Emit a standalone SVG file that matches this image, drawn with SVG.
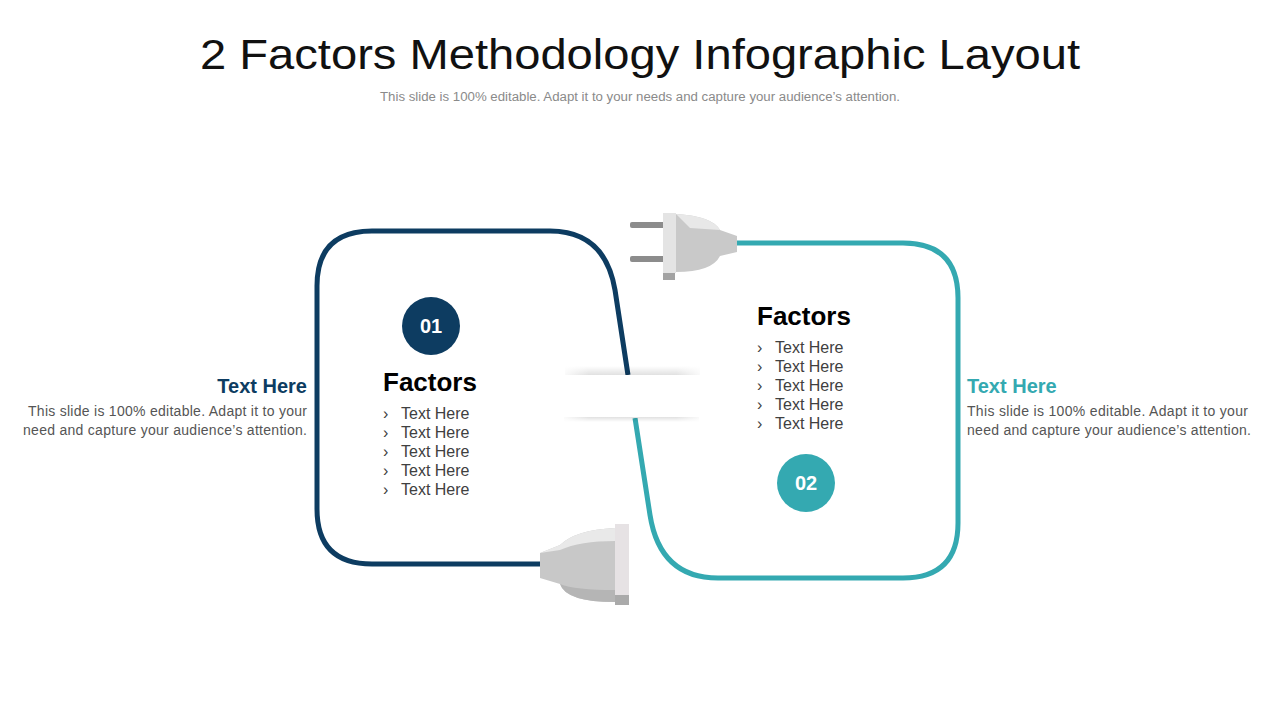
<svg xmlns="http://www.w3.org/2000/svg" width="1280" height="720" viewBox="0 0 1280 720">
<defs>
<style>
text{font-family:"Liberation Sans",Arial,sans-serif}
.t{font-size:16px;fill:#404040}
.d{font-size:14px;fill:#555}
.h{font-size:26px;font-weight:bold;fill:#000}
</style>
<linearGradient id="sh" x1="0" y1="0" x2="0" y2="1"><stop offset="0" stop-color="#000" stop-opacity="0"/><stop offset="1" stop-color="#000" stop-opacity="0.12"/></linearGradient>
<linearGradient id="fade" x1="0" y1="0" x2="1" y2="0"><stop offset="0" stop-color="#fff" stop-opacity="1"/><stop offset="0.2" stop-color="#fff" stop-opacity="0"/><stop offset="0.8" stop-color="#fff" stop-opacity="0"/><stop offset="1" stop-color="#fff" stop-opacity="1"/></linearGradient>
</defs>
<rect width="1280" height="720" fill="#fff"/>
<text x="200" y="69" font-size="42" fill="#111" textLength="880" lengthAdjust="spacingAndGlyphs" style="font-family:'Liberation Sans',sans-serif">2 Factors Methodology Infographic Layout</text>
<text x="380" y="101" font-size="12" fill="#8a8a8a" textLength="520" lengthAdjust="spacingAndGlyphs">This slide is 100% editable. Adapt it to your needs and capture your audience’s attention.</text>
<g id="connectors" fill="none" stroke-width="5">
<path d="M540 564 H372 Q317 564 317 509 V286 Q317 231 372 231 H550 Q605 231 615 290 L628 375" stroke="#0d3c61"/>
<path d="M635 418 L650 515 Q660 578 718 578 H903 Q958 578 958 523 V298 Q958 243 903 243 H735" stroke="#34a9b1"/>
</g>
<g id="band">
<rect x="565" y="366" width="135" height="9" fill="url(#sh)"/>
<rect x="565" y="375" width="135" height="43" fill="#fff"/>
<rect x="565" y="418" width="135" height="5" fill="url(#sh)" transform="rotate(180 632 420)"/>
<rect x="560" y="362" width="145" height="64" fill="url(#fade)"/>
</g>
<g id="plug-top">
<rect x="630" y="222" width="36" height="6" rx="2" fill="#8c8c8c"/>
<rect x="630" y="256" width="36" height="6" rx="2" fill="#8c8c8c"/>
<path d="M676 214 Q712 216 720 230 L737 236 V252 L720 256 Q712 272 676 272 Z" fill="#c9c9c9"/>
<path d="M676 214 Q712 216 720 230 L690 228 Z" fill="#e8e8e8"/>
<rect x="663" y="213" width="13" height="60" fill="#e4e4e4"/>
<rect x="663" y="273" width="12" height="7" fill="#a3a3a3"/>
</g>
<g id="plug-bottom">
<path d="M615 528 Q575 530 560 545 L540 553 V578 L560 584 Q566 602 615 602 Z" fill="#c8c8c8"/>
<path d="M615 528 Q575 530 560 545 L540 553 L560 550 Q580 541 615 541 Z" fill="#e9e9e9"/>
<path d="M560 584 Q566 602 615 602 V590 Q575 590 560 584 Z" fill="#b5b5b5"/>
<rect x="615" y="524" width="14" height="73" fill="#e6e2e4"/>
<rect x="615" y="595" width="14" height="10" fill="#aaa"/>
</g>
<g id="node1">
<circle cx="431" cy="326" r="29" fill="#0d3c61"/>
<text x="431" y="333" text-anchor="middle" font-size="20" font-weight="bold" fill="#fff">01</text>
<text x="383" y="391" class="h">Factors</text>
<text class="t"><tspan x="383" y="419">›</tspan><tspan x="401" y="419">Text Here</tspan><tspan x="383" y="438">›</tspan><tspan x="401" y="438">Text Here</tspan><tspan x="383" y="457">›</tspan><tspan x="401" y="457">Text Here</tspan><tspan x="383" y="476">›</tspan><tspan x="401" y="476">Text Here</tspan><tspan x="383" y="495">›</tspan><tspan x="401" y="495">Text Here</tspan></text>
</g>
<g id="node2">
<circle cx="806" cy="483" r="29" fill="#34a9b1"/>
<text x="806" y="490" text-anchor="middle" font-size="20" font-weight="bold" fill="#fff">02</text>
<text x="757" y="325" class="h">Factors</text>
<text class="t"><tspan x="757" y="353">›</tspan><tspan x="775" y="353">Text Here</tspan><tspan x="757" y="372">›</tspan><tspan x="775" y="372">Text Here</tspan><tspan x="757" y="391">›</tspan><tspan x="775" y="391">Text Here</tspan><tspan x="757" y="410">›</tspan><tspan x="775" y="410">Text Here</tspan><tspan x="757" y="429">›</tspan><tspan x="775" y="429">Text Here</tspan></text>
</g>
<g id="side-left">
<text x="307" y="393" text-anchor="end" font-size="20" font-weight="bold" fill="#0d3c61">Text Here</text>
<text class="d"><tspan x="28" y="416" textLength="279">This slide is 100% editable. Adapt it to your</tspan><tspan x="23" y="435" textLength="284">need and capture your audience’s attention.</tspan></text>
</g>
<g id="side-right">
<text x="967" y="393" font-size="20" font-weight="bold" fill="#34a9b1">Text Here</text>
<text class="d"><tspan x="967" y="416" textLength="281">This slide is 100% editable. Adapt it to your</tspan><tspan x="967" y="435" textLength="284">need and capture your audience’s attention.</tspan></text>
</g>
</svg>
